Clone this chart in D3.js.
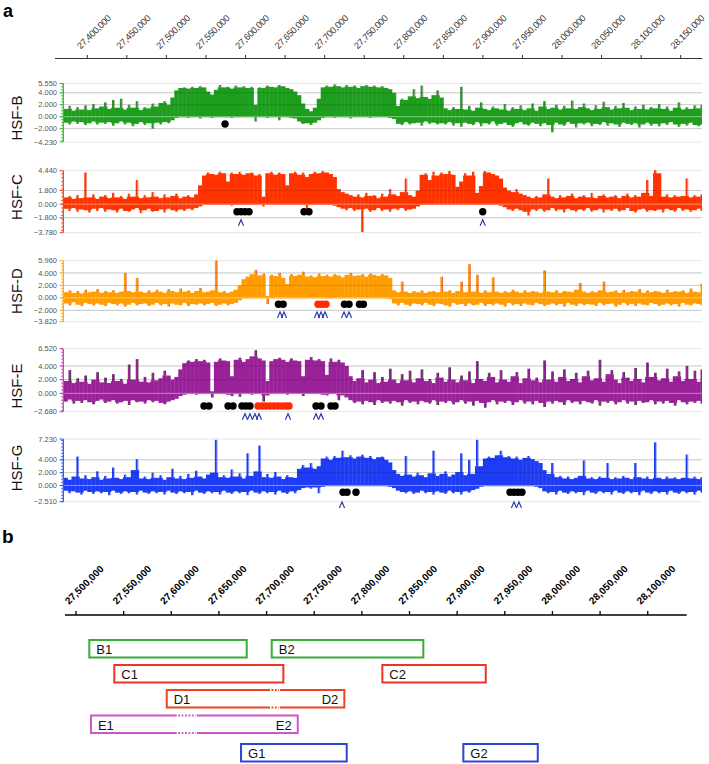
<!DOCTYPE html>
<html><head><meta charset="utf-8">
<script src="https://cdn.jsdelivr.net/npm/d3@7"></script>
<style>body{margin:0;background:#fff} svg{display:block;font-family:Arial,"Liberation Sans",sans-serif}</style>
</head><body>
<svg id="c" width="709" height="764"></svg>
<script>
// ---------------- DATA ----------------
const binStart = 27370000, binSize = 5000;
const topTicks = d3.range(27400000, 28150001, 50000);
const botTicks = d3.range(27500000, 28100001, 50000);

const bHi = [1.3,1.8,1.0,1.6,1.2,1.9,1.1,2.1,1.4,1.7,
 2.4,1.3,2.8,1.5,3.0,1.2,2.0,1.5,2.6,1.1,
 1.6,1.4,2.2,1.7,2.3,2.6,2.0,3.2,4.4,4.8,
 4.9,4.7,5.0,4.8,5.1,4.9,4.2,3.7,4.5,5.3,
 4.9,5.0,4.7,5.2,4.9,5.1,4.8,5.0,2.0,4.9,
 4.8,5.2,5.0,4.9,5.3,5.1,4.8,4.6,4.2,3.6,
 2.2,1.3,0.9,1.5,3.0,4.9,5.2,5.0,5.4,5.1,
 4.9,5.3,5.0,5.2,4.8,5.1,5.3,5.0,5.2,4.9,
 5.1,4.8,4.6,4.0,1.8,3.0,2.8,3.4,4.6,3.1,
 5.2,3.3,3.0,3.6,4.4,3.2,1.4,1.1,1.6,1.3,
 5.0,1.2,1.8,1.0,1.5,2.4,1.3,1.1,1.7,1.4,
 1.2,2.1,1.0,1.6,1.3,1.9,1.1,1.4,2.2,1.0,
 1.7,2.6,1.3,1.5,2.0,1.2,1.8,1.4,2.7,1.3,
 1.6,2.2,1.4,1.1,1.9,1.3,2.5,1.6,1.2,1.8,
 1.4,2.3,1.5,1.1,1.7,1.3,2.0,1.2,1.6,1.4,
 2.1,1.3,1.7,1.0,1.5,2.4,1.2,1.6,1.3,1.9,
 1.4,2.0];
const bLo = [-1.0,-1.3,-0.8,-1.2,-0.9,-1.4,-1.1,-0.8,-1.3,-1.0,
 -1.2,-0.9,-1.5,-1.1,-0.8,-1.3,-1.0,-1.6,-1.2,-0.9,
 -1.4,-1.1,-2.0,-1.0,-1.3,-0.9,-1.1,-0.6,-0.2,-0.1,
 -0.1,-0.2,-0.1,-0.1,-0.3,-0.1,-0.1,-0.2,-0.1,-0.1,
 -0.1,-0.1,-0.2,-0.1,-0.1,-0.1,-0.1,-0.1,-0.8,-0.1,
 -0.1,-0.2,-0.1,-0.1,-0.6,-0.1,-0.1,-0.2,-0.3,-0.8,
 -1.2,-1.1,-1.4,-1.0,-0.6,-0.2,-0.1,-0.1,-0.2,-0.1,
 -0.1,-0.1,-0.3,-0.1,-0.1,-0.1,-0.1,-0.2,-0.1,-0.1,
 -0.1,-0.1,-0.2,-0.4,-1.2,-1.4,-0.9,-1.3,-1.1,-1.0,
 -1.5,-0.8,-1.2,-1.0,-1.3,-1.1,-1.3,-0.9,-1.5,-1.1,
 -1.7,-1.0,-1.2,-1.4,-0.9,-1.6,-1.1,-1.3,-0.8,-1.5,
 -1.2,-1.0,-1.4,-1.7,-1.1,-0.9,-1.3,-1.5,-1.0,-1.2,
 -1.6,-1.1,-1.4,-2.6,-1.0,-1.3,-1.5,-0.9,-1.2,-1.8,
 -1.1,-1.3,-1.0,-1.6,-1.2,-1.4,-0.9,-1.5,-1.1,-1.3,
 -1.7,-1.0,-1.2,-1.4,-1.1,-1.8,-1.3,-1.0,-1.5,-1.2,
 -1.6,-1.1,-1.4,-0.9,-1.3,-1.7,-1.2,-1.5,-1.0,-1.4,
 -1.6,-1.3];

const cHi = [0.9,1.1,0.7,1.2,0.8,4.2,0.9,1.3,0.7,1.0,
 1.2,0.8,1.5,0.9,1.1,0.7,1.4,1.0,3.2,0.8,
 1.2,0.9,1.6,1.0,0.8,1.3,0.9,1.1,1.4,0.8,
 1.0,1.2,0.9,1.3,2.5,3.8,4.2,4.0,3.9,4.3,
 4.1,3.0,4.2,4.0,4.3,3.9,4.1,4.2,3.8,4.0,
 1.0,4.1,4.3,3.9,4.2,4.0,2.5,4.1,4.3,3.9,
 4.2,3.6,4.0,4.3,4.1,4.4,4.2,4.0,3.6,2.0,
 1.6,1.4,1.2,1.0,1.3,0.9,1.5,1.1,1.2,0.8,
 1.4,1.0,2.0,1.3,1.1,1.6,3.4,1.2,1.0,1.8,
 3.9,4.1,3.2,4.3,3.8,4.2,4.0,4.4,3.9,2.3,
 3.0,4.1,3.8,4.3,1.5,2.4,4.4,4.2,4.0,3.8,
 3.4,2.2,1.8,1.6,2.0,1.4,1.2,1.0,0.8,1.1,
 0.9,1.3,3.4,1.0,0.8,1.2,0.9,1.1,1.4,0.8,
 1.0,1.2,0.9,1.5,0.8,1.1,1.3,0.9,1.0,1.2,
 0.8,1.1,1.4,0.9,1.2,1.0,1.5,3.2,1.1,4.5,
 4.1,1.0,1.3,0.9,1.2,1.0,1.1,3.4,0.9,1.2,
 1.0,1.3];
const cLo = [-0.6,-0.9,-0.5,-1.0,-0.7,-0.8,-1.1,-0.6,-0.9,-0.5,
 -1.0,-0.7,-0.8,-1.1,-0.6,-0.9,-1.0,-0.7,-0.5,-1.2,
 -0.8,-0.6,-1.0,-0.9,-0.7,-1.1,-0.6,-0.8,-1.0,-0.7,
 -0.9,-0.6,-0.8,-0.5,-0.3,-0.1,-0.1,-0.1,-0.1,-0.1,
 -0.1,-0.1,-0.2,-0.1,-0.1,-0.1,-0.1,-0.1,-0.1,-0.1,
 -0.3,-0.1,-0.1,-0.1,-0.1,-0.1,-0.1,-0.1,-0.1,-0.1,
 -0.1,-0.8,-0.1,-0.1,-0.1,-0.1,-0.1,-0.1,-0.2,-0.4,
 -0.6,-0.8,-0.5,-0.9,-0.7,-3.7,-0.6,-1.0,-0.8,-0.5,
 -0.9,-0.7,-1.0,-0.6,-0.8,-0.5,-0.9,-0.7,-0.6,-0.3,
 -0.1,-0.1,-0.1,-0.1,-0.1,-0.1,-0.1,-0.1,-0.1,-0.1,
 -0.1,-0.1,-0.1,-0.1,-0.1,-0.1,-0.1,-0.1,-0.1,-0.1,
 -0.2,-0.4,-0.7,-0.9,-0.6,-0.8,-1.0,-1.5,-0.7,-0.9,
 -0.6,-1.0,-0.8,-0.5,-0.9,-0.7,-1.1,-0.6,-0.8,-1.0,
 -0.7,-0.9,-0.5,-1.0,-0.8,-0.6,-1.1,-0.7,-0.9,-0.6,
 -1.0,-0.8,-0.5,-0.9,-1.1,-0.7,-0.6,-1.0,-0.8,-0.9,
 -0.7,-1.1,-0.6,-0.8,-1.0,-0.5,-0.9,-0.7,-1.0,-0.8,
 -0.6,-0.9];

const dHi = [0.9,1.2,0.8,1.1,0.7,1.3,0.9,1.0,1.4,0.8,
 1.1,0.9,1.2,0.8,1.0,4.0,1.1,0.9,3.2,1.0,
 0.8,1.2,0.9,1.3,1.0,0.8,1.4,1.1,0.9,1.5,
 1.0,1.2,0.8,1.1,1.6,0.9,1.0,1.2,6.0,0.9,
 1.1,0.8,1.0,1.3,2.0,3.0,3.4,3.8,4.5,3.6,
 3.9,0.3,3.7,3.5,4.0,3.2,2.2,3.8,3.5,3.7,
 4.2,3.4,3.6,3.3,3.9,3.5,3.7,3.4,3.8,3.6,
 3.3,3.7,4.0,3.5,3.6,3.8,3.4,3.9,3.7,3.5,
 3.8,3.6,3.2,1.2,0.9,2.6,1.0,0.8,1.1,0.9,
 1.2,0.8,1.0,1.1,0.9,3.4,1.0,1.2,0.8,1.1,
 2.6,0.9,5.4,1.0,3.7,0.8,1.2,0.9,3.3,1.0,
 0.8,1.1,0.9,1.3,1.0,0.8,1.2,0.9,1.1,1.0,
 0.8,4.4,1.0,0.9,1.2,0.8,1.1,1.0,0.9,1.3,
 2.4,1.0,0.8,1.1,0.9,1.2,2.6,0.9,1.0,1.2,
 0.8,1.3,0.9,1.1,1.0,1.4,0.8,1.2,0.9,1.1,
 1.0,0.8,1.3,0.9,1.1,1.0,1.2,0.8,1.5,1.0,
 0.9,2.3];
const dLo = [-0.9,-1.2,-0.7,-1.1,-1.3,-0.8,-1.0,-1.2,-0.9,-1.1,
 -1.3,-0.8,-1.0,-1.2,-0.9,-1.4,-1.1,-0.8,-1.2,-1.0,
 -0.9,-1.3,-1.1,-0.8,-1.2,-1.0,-1.4,-0.9,-1.1,-1.2,
 -0.8,-1.3,-1.0,-1.1,-0.9,-1.2,-1.0,-0.8,-1.3,-1.1,
 -0.9,-1.2,-1.0,-0.8,-0.4,-0.1,-0.1,-0.1,-0.1,-0.1,
 -0.1,-1.0,-0.1,-0.1,-0.1,-0.1,-0.1,-0.1,-0.1,-0.1,
 -0.1,-0.1,-0.1,-0.1,-0.1,-0.1,-0.1,-0.1,-0.1,-0.1,
 -0.1,-0.1,-0.1,-0.1,-0.1,-0.1,-0.1,-0.1,-0.1,-0.1,
 -0.1,-0.1,-0.2,-0.9,-1.2,-0.8,-1.1,-1.3,-0.9,-1.0,
 -1.2,-0.8,-1.1,-1.3,-0.9,-1.0,-1.2,-1.4,-0.8,-1.1,
 -1.0,-1.3,-0.9,-1.2,-1.1,-0.8,-1.3,-1.0,-1.2,-0.9,
 -1.1,-1.4,-0.8,-1.2,-1.0,-1.3,-0.9,-1.1,-1.2,-0.8,
 -1.0,-1.3,-1.1,-0.9,-1.2,-1.0,-1.4,-0.8,-1.1,-1.3,
 -0.9,-1.2,-1.0,-1.1,-1.3,-0.8,-1.2,-1.0,-0.9,-1.4,
 -1.1,-0.8,-1.2,-1.0,-1.3,-0.9,-1.1,-1.2,-0.8,-1.0,
 -1.3,-1.1,-0.9,-1.2,-1.0,-1.4,-0.8,-1.1,-1.2,-0.9,
 -1.0,-1.2];

const eHi = [1.8,3.4,1.5,2.2,1.7,2.6,1.4,2.0,3.1,1.6,
 2.3,1.5,2.8,1.8,2.1,1.4,4.2,2.0,5.0,1.7,
 2.4,1.6,3.0,1.9,2.2,3.3,2.6,2.0,2.4,3.5,
 4.4,4.8,4.6,5.0,4.7,4.9,4.5,0.3,4.6,5.1,
 4.8,4.7,2.5,4.9,5.2,4.6,5.0,5.4,6.3,5.1,
 4.8,1.8,4.7,5.0,5.2,4.9,4.6,5.1,4.8,4.7,
 2.5,4.9,5.3,4.8,5.0,4.7,2.7,5.1,4.6,4.9,
 4.5,4.0,2.5,1.8,2.2,3.4,1.6,2.0,3.1,1.5,
 2.4,1.7,3.6,2.0,1.5,2.8,1.9,3.3,1.6,2.2,
 3.5,1.8,2.1,1.5,3.0,2.3,1.7,3.8,2.0,1.6,
 2.6,1.9,3.2,1.5,4.7,2.1,1.8,3.0,2.4,1.6,
 3.4,2.0,1.7,2.5,3.1,1.5,2.2,3.6,1.9,2.3,
 1.6,4.8,2.0,3.2,1.7,2.4,3.5,1.8,2.1,3.0,
 1.6,2.5,3.3,1.9,2.2,4.9,1.7,2.8,3.4,2.0,
 1.5,3.1,2.3,1.8,3.7,2.1,1.6,4.5,2.4,3.0,
 1.9,2.2,3.6,1.7,2.5,3.2,1.8,4.0,2.1,3.3,
 1.7,3.5];
const eLo = [-1.2,-0.9,-1.5,-1.1,-1.4,-1.0,-1.3,-1.6,-1.1,-0.9,
 -1.4,-1.2,-1.0,-1.5,-1.3,-1.1,-1.7,-1.0,-1.3,-1.2,
 -1.5,-1.0,-1.3,-1.1,-1.4,-1.6,-1.2,-1.0,-0.8,-0.4,
 -0.2,-0.1,-0.1,-0.2,-0.1,-0.1,-0.1,-0.6,-0.1,-0.1,
 -0.1,-0.2,-0.4,-0.1,-0.5,-0.1,-0.1,-0.2,-0.1,-0.1,
 -1.2,-0.3,-0.1,-0.1,-0.1,-0.1,-0.2,-0.1,-0.1,-0.1,
 -0.4,-0.1,-0.1,-0.1,-0.1,-0.2,-0.3,-0.1,-0.1,-1.0,
 -0.3,-0.6,-1.0,-1.4,-1.2,-1.6,-1.1,-1.3,-1.7,-1.0,
 -1.4,-1.2,-1.5,-1.1,-1.3,-1.8,-1.0,-1.4,-1.2,-1.6,
 -1.1,-1.3,-1.5,-1.0,-1.7,-1.2,-1.4,-1.1,-1.6,-1.3,
 -1.0,-1.5,-1.2,-1.8,-1.1,-1.4,-2.1,-1.3,-1.0,-1.6,
 -1.2,-1.4,-1.1,-1.7,-1.3,-1.0,-1.5,-1.2,-1.6,-1.1,
 -1.4,-2.0,-1.2,-1.5,-1.1,-1.3,-1.7,-1.0,-1.4,-1.2,
 -1.6,-1.1,-1.3,-1.5,-1.0,-1.8,-1.2,-1.4,-1.1,-1.6,
 -1.3,-1.0,-1.5,-1.2,-1.7,-1.1,-1.4,-1.3,-1.0,-1.6,
 -1.2,-1.5,-1.1,-1.4,-1.8,-1.0,-1.3,-1.6,-1.2,-1.4,
 -1.1,-1.5];

const gHi = [1.2,0.9,1.4,4.5,1.1,1.6,1.0,1.3,2.2,0.9,
 1.5,1.1,2.8,1.2,1.0,1.7,1.3,2.4,4.1,1.1,
 1.4,1.0,2.0,1.2,1.6,0.9,1.3,2.6,1.1,1.5,
 1.0,1.8,1.2,2.3,1.4,1.1,1.7,2.0,7.1,1.3,
 1.6,1.2,2.5,1.4,1.9,1.1,5.0,1.5,2.2,6.2,
 1.3,1.8,1.2,2.1,1.4,1.0,1.6,1.3,1.2,2.6,
 3.2,2.8,3.5,2.6,3.0,4.2,4.5,4.0,4.6,4.3,
 5.4,4.4,4.7,4.2,4.5,4.8,4.3,4.6,4.1,4.4,
 4.5,4.0,3.6,2.4,1.8,1.5,4.6,1.7,1.4,2.0,
 1.6,1.3,1.9,5.4,1.5,1.8,2.2,1.4,1.7,2.1,
 5.0,1.6,4.0,1.8,7.1,3.0,4.2,4.5,4.3,4.7,
 5.4,4.4,4.6,4.2,4.5,4.0,4.3,4.6,4.1,3.8,
 3.5,2.4,1.8,3.5,1.3,1.5,1.1,1.4,1.0,1.2,
 1.5,3.9,1.1,1.3,1.0,1.4,1.2,3.5,1.0,1.3,
 1.1,1.5,1.2,1.0,3.5,1.3,1.1,1.4,1.0,6.7,
 1.2,1.0,1.4,1.1,1.3,1.0,1.2,4.8,1.1,1.4,
 1.0,1.3];
const gLo = [-0.8,-1.2,-0.9,-1.1,-1.4,-0.8,-1.0,-1.3,-0.9,-1.2,
 -1.0,-1.5,-0.8,-1.1,-1.3,-0.9,-1.2,-1.0,-1.4,-0.8,
 -1.1,-1.3,-0.9,-1.2,-1.0,-1.4,-0.8,-1.1,-1.3,-0.9,
 -1.2,-1.0,-1.5,-0.8,-1.1,-1.3,-0.9,-1.2,-1.0,-1.4,
 -0.8,-1.1,-1.3,-0.9,-1.2,-1.0,-1.5,-0.8,-1.1,-1.3,
 -0.9,-1.2,-1.0,-1.4,-0.8,-1.1,-1.3,-0.9,-1.2,-0.7,
 -0.4,-0.3,-0.5,-0.3,-1.2,-0.2,-0.1,-0.1,-0.1,-0.1,
 -0.1,-0.1,-0.1,-0.1,-0.1,-0.1,-0.1,-0.1,-0.1,-0.1,
 -0.1,-0.1,-0.2,-0.4,-0.8,-1.0,-1.2,-0.9,-1.3,-1.1,
 -0.8,-1.2,-1.0,-1.4,-0.9,-1.1,-1.3,-0.8,-1.2,-1.0,
 -1.4,-0.9,-1.1,-0.7,-0.5,-0.2,-0.1,-0.1,-0.1,-0.1,
 -0.1,-0.1,-0.1,-0.1,-0.1,-0.1,-0.1,-0.1,-0.1,-0.2,
 -0.4,-0.9,-1.2,-1.0,-1.4,-0.8,-1.1,-1.3,-0.9,-1.2,
 -1.0,-1.5,-0.8,-1.1,-1.3,-0.9,-1.2,-1.0,-1.4,-0.8,
 -1.1,-1.3,-0.9,-1.2,-1.0,-1.5,-0.8,-1.1,-1.3,-0.9,
 -1.2,-1.0,-1.4,-0.8,-1.1,-1.3,-0.9,-1.2,-1.0,-1.4,
 -0.8,-1.1];

const trackNames = ["HSF-B","HSF-C","HSF-D","HSF-E","HSF-G"];
const trackTicks = [[5.55,4,2,0,-2,-4.23],[4.44,1.8,0,-1.8,-3.78],[5.96,4,2,0,-2,-3.82],[6.52,4,2,0,-2.68],[7.23,4,2,0,-2.51]];

const dotsB = [27574100];
const dotsC = [27589200,27594300,27599300,27604400,27673900,27680200,27899800];
const dotsD = [27641600,27647600,27725000,27730800,27744000,27749000];
const dotsDred = [27691600,27696700,27701700];
const dotsE = [27547500,27553800,27577900,27584200,27595500,27600600,27605600,27689100,27695400,27708000,27713100];
const dotsEred = [27615800,27620900,27625900,27631000,27636000,27641100,27646200,27651200,27655000];
const dotsG = [27723200,27728300,27739600,27934300,27939300,27944400,27949400];
const caretsB = [];
const caretsC = [27594300,27899800];
const caretsD = [27643600,27648600,27690300,27695400,27700400,27724500,27730800];
const caretsE = [27599300,27605600,27611900,27617000,27653700,27689100,27695400];
const caretsG = [27721900,27939300,27945600];

const boxLabels = ["B1","B2","C1","C2","D1","E1","G1","G2"];
const boxRightLabels = ["","","","","D2","E2","",""];
const boxStart = [27513960,27705400,27540200,27821500,27595200,27515700,27673200,27906500];
const boxEnd   = [27679160,27864500,27717600,27930000,27781600,27732700,27784100,27984600];
const boxRow   = [0,0,1,1,2,3,4,4];
const gapStart = [null,null,null,null,27703600,27605700,null,null];
const gapEnd   = [null,null,null,null,27714100,27626700,null,null];

// ---------------- DRAW ----------------
const svg = d3.select("#c");
const fmtC = d3.format(",");
const xA = d3.scaleLinear().domain([27359200, 28177300]).range([55, 702.3]);

svg.append("text").attr("x",3).attr("y",17).attr("font-size",18).attr("font-weight","bold").text("a");
svg.append("text").attr("x",2).attr("y",543).attr("font-size",19).attr("font-weight","bold").text("b");

// top axis
const ta = svg.append("g");
ta.append("line").attr("x1",55).attr("x2",702.3).attr("y1",58.5).attr("y2",58.5).attr("stroke","#333");
ta.selectAll("line.t").data(topTicks).join("line").attr("class","t")
  .attr("x1",d=>xA(d)).attr("x2",d=>xA(d)).attr("y1",55).attr("y2",58.5).attr("stroke","#333");
ta.selectAll("text").data(topTicks).join("text")
  .attr("transform",d=>`translate(${xA(d)-6.5},49.5) rotate(-45)`)
  .attr("font-size",9.2).attr("letter-spacing",-0.25).attr("fill","#333").text(d=>fmtC(d));

const layout = [
  {hi:bHi, lo:bLo, yT:83.5, yB:142, color:"#1d9e1d", spike:"#8a8a8a", axis:"#33bb33", ly:118, dots:dotsB, red:[], dy:124, carets:caretsB, cy:0},
  {hi:cHi, lo:cLo, yT:170.7, yB:232.7, color:"#ff3300", spike:"#f88a70", axis:"#ee4422", ly:197, dots:dotsC, red:[], dy:211.7, carets:caretsC, cy:222.7},
  {hi:dHi, lo:dLo, yT:260.7, yB:321.7, color:"#ff9d00", spike:"#e8502e", axis:"#ffaa00", ly:291, dots:dotsD, red:dotsDred, dy:304.3, carets:caretsD, cy:315},
  {hi:eHi, lo:eLo, yT:348.7, yB:411.7, color:"#992299", spike:"#2a2a2a", axis:"#bb44bb", ly:386, dots:dotsE, red:dotsEred, dy:406, carets:caretsE, cy:416.7},
  {hi:gHi, lo:gLo, yT:439, yB:501.7, color:"#1f3cf5", spike:"#7b8cff", axis:"#3355ee", ly:468, dots:dotsG, red:[], dy:492.3, carets:caretsG, cy:505}
];

svg.append("clipPath").attr("id","plotclip").append("rect").attr("x",64).attr("y",0).attr("width",638).attr("height",764);

layout.forEach((L,k)=>{
  const ticks = trackTicks[k];
  const y = d3.scaleLinear().domain([d3.min(ticks), d3.max(ticks)]).range([L.yB, L.yT]);
  const g = svg.append("g");
  g.selectAll("line.grid").data(ticks).join("line").attr("class","grid")
    .attr("x1",64).attr("x2",702).attr("y1",d=>y(d)).attr("y2",d=>y(d))
    .attr("stroke","#e6e6e6").attr("stroke-width",1);
  const bars = g.append("g").attr("clip-path","url(#plotclip)");
  const n = L.hi.length;
  const bins = d3.range(n).map(i=>{
    const x0 = xA(binStart + i*binSize), x1 = xA(binStart + (i+1)*binSize);
    const hp = i>0?L.hi[i-1]:L.hi[i], hn = i<n-1?L.hi[i+1]:L.hi[i];
    const lp = i>0?L.lo[i-1]:L.lo[i], ln = i<n-1?L.lo[i+1]:L.lo[i];
    return {x0, x1, hi:L.hi[i], lo:L.lo[i],
      bh: Math.min(L.hi[i], Math.max(hp,hn)), bl: Math.max(L.lo[i], Math.min(lp,ln))};
  });
  bars.selectAll("rect.body").data(bins).join("rect").attr("class","body")
    .attr("x",d=>d.x0).attr("width",d=>d.x1-d.x0+0.4)
    .attr("y",d=>y(d.bh)).attr("height",d=>y(d.bl)-y(d.bh)).attr("fill",L.color);
  const up = bins.filter(d=>d.hi>d.bh), dn = bins.filter(d=>d.lo<d.bl);
  bars.selectAll("rect.up").data(up).join("rect").attr("class","up")
    .attr("x",d=>(d.x0+d.x1)/2-1).attr("width",2)
    .attr("y",d=>y(d.hi)).attr("height",d=>y(d.bh)-y(d.hi)+0.5).attr("fill",L.color);
  bars.selectAll("line.up").data(up).join("line").attr("class","up")
    .attr("x1",d=>(d.x0+d.x1)/2+1.2).attr("x2",d=>(d.x0+d.x1)/2+1.2)
    .attr("y1",d=>y(d.hi)).attr("y2",d=>y(d.bh)).attr("stroke",L.spike).attr("stroke-width",0.9);
  bars.selectAll("rect.dn").data(dn).join("rect").attr("class","dn")
    .attr("x",d=>(d.x0+d.x1)/2-1).attr("width",2)
    .attr("y",d=>y(d.bl)-0.5).attr("height",d=>y(d.lo)-y(d.bl)+0.5).attr("fill",L.color);
  bars.selectAll("line.dn").data(dn).join("line").attr("class","dn")
    .attr("x1",d=>(d.x0+d.x1)/2+1.2).attr("x2",d=>(d.x0+d.x1)/2+1.2)
    .attr("y1",d=>y(d.bl)).attr("y2",d=>y(d.lo)).attr("stroke",L.spike).attr("stroke-width",0.9);
  g.selectAll("line.ov").data(ticks.filter(t=>t!==0 && t!==d3.min(ticks) && t!==d3.max(ticks))).join("line").attr("class","ov")
    .attr("x1",64).attr("x2",702).attr("y1",d=>y(d)).attr("y2",d=>y(d))
    .attr("stroke","rgba(0,0,0,0.13)");
  g.append("line").attr("x1",64).attr("x2",702).attr("y1",y(0)).attr("y2",y(0))
    .attr("stroke","rgba(255,255,255,0.55)").attr("stroke-width",0.8);
  // y axis
  g.append("line").attr("x1",63.3).attr("x2",63.3).attr("y1",L.yT).attr("y2",L.yB).attr("stroke",L.axis).attr("stroke-width",1.3);
  const minor = d3.range(Math.ceil(d3.min(ticks)*2)/2, d3.max(ticks)+0.001, 0.5);
  g.selectAll("line.mi").data(minor).join("line").attr("class","mi")
    .attr("x1",61).attr("x2",63.3).attr("y1",d=>y(d)).attr("y2",d=>y(d)).attr("stroke",L.axis).attr("stroke-width",0.8);
  g.selectAll("line.ma").data(ticks).join("line").attr("class","ma")
    .attr("x1",59.5).attr("x2",63.3).attr("y1",d=>y(d)).attr("y2",d=>y(d)).attr("stroke",L.axis).attr("stroke-width",1);
  g.selectAll("text.tl").data(ticks).join("text").attr("class","tl")
    .attr("x",57).attr("y",d=>y(d)).attr("dy","0.35em").attr("text-anchor","end")
    .attr("font-family","'Liberation Sans Narrow','Arial Narrow',Arial,sans-serif")
    .attr("font-size",7.5).attr("fill","#555").text(d=>d3.format(".3f")(d));
  g.append("text").attr("transform",`translate(21.5,${L.ly}) rotate(-90)`).attr("text-anchor","middle")
    .attr("font-size",15).attr("fill","#111").text(trackNames[k]);
  g.selectAll("circle.bk").data(L.dots).join("circle").attr("class","bk")
    .attr("cx",d=>xA(d)).attr("cy",L.dy).attr("r",3.7).attr("fill","#000");
  g.selectAll("circle.rd").data(L.red).join("circle").attr("class","rd")
    .attr("cx",d=>xA(d)).attr("cy",L.dy).attr("r",3.7).attr("fill","#ff2a00");
  g.selectAll("path.ct").data(L.carets).join("path").attr("class","ct")
    .attr("d",d=>{const x=xA(d), c=L.cy; return `M${x-2.6},${c+3}L${x},${c-3}L${x+2.6},${c+3}`;})
    .attr("fill","none").attr("stroke","#2233aa").attr("stroke-width",1.1);
});

// ---------------- panel b ----------------
const xB = d3.scaleLinear().domain([27488450, 28140900]).range([65, 686.7]);
const ba = svg.append("g");
ba.append("line").attr("x1",65).attr("x2",686.7).attr("y1",615).attr("y2",615).attr("stroke","#000").attr("stroke-width",1.5);
ba.selectAll("line.t").data(botTicks).join("line").attr("class","t")
  .attr("x1",d=>xB(d)).attr("x2",d=>xB(d)).attr("y1",611).attr("y2",615).attr("stroke","#000").attr("stroke-width",1.3);
ba.selectAll("text").data(botTicks).join("text")
  .attr("transform",d=>`translate(${xB(d)-7},605) rotate(-45)`)
  .attr("font-size",10).attr("font-weight","bold").attr("fill","#000").text(d=>fmtC(d));

const rowTop = [640, 665, 690, 715.5, 744];
const rowColor = ["#36ad36","#ee3322","#f0421c","#cc55cc","#2b46d0"];
const boxH = 17.5;
const bx = svg.append("g");
boxLabels.forEach((lab,i)=>{
  const x0 = xB(boxStart[i]), x1 = xB(boxEnd[i]), yt = rowTop[boxRow[i]], col = rowColor[boxRow[i]];
  bx.append("rect").attr("x",x0).attr("y",yt).attr("width",x1-x0).attr("height",boxH)
    .attr("fill","none").attr("stroke",col).attr("stroke-width",2);
  if (gapStart[i] !== null) {
    const g0 = xB(gapStart[i]), g1 = xB(gapEnd[i]);
    [yt, yt+boxH].forEach(yy=>{
      bx.append("line").attr("x1",g0).attr("x2",g1).attr("y1",yy).attr("y2",yy).attr("stroke","#fff").attr("stroke-width",3);
      bx.append("line").attr("x1",g0+1.5).attr("x2",g1-1).attr("y1",yy).attr("y2",yy)
        .attr("stroke",col).attr("stroke-width",2).attr("stroke-dasharray","1.8,1.6");
    });
  }
  bx.append("text").attr("x",x0+7).attr("y",yt+14).attr("font-size",13).attr("fill","#111").text(lab);
  if (boxRightLabels[i]) bx.append("text").attr("x",x1-6).attr("y",yt+14).attr("text-anchor","end")
    .attr("font-size",13).attr("fill","#111").text(boxRightLabels[i]);
});
</script></body></html>
